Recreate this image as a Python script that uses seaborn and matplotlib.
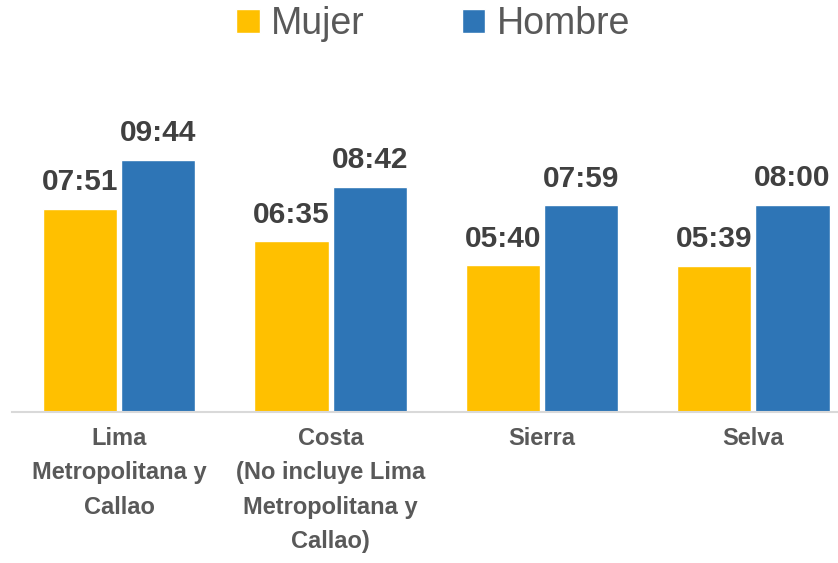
import numpy as np
import pandas as pd
import matplotlib.pyplot as plt
import seaborn as sns

# datos
regiones = ["Lima\nMetropolitana y\nCallao",
            "Costa\n(No incluye Lima\nMetropolitana y\nCallao)",
            "Sierra",
            "Selva"]
mujer = ["07:51", "06:35", "05:40", "05:39"]
hombre = ["09:44", "08:42", "07:59", "08:00"]


def a_horas(t):
    h, m = t.split(":")
    return int(h) + int(m) / 60


df = pd.DataFrame({
    "region": regiones * 2,
    "sexo": ["Mujer"] * 4 + ["Hombre"] * 4,
    "horas": [a_horas(t) for t in mujer + hombre],
})

sns.set_style("white")
plt.rcParams["font.family"] = ["Liberation Sans", "DejaVu Sans"]

fig = plt.figure(figsize=(8.38, 5.63), dpi=100)
ax = fig.add_axes([12 / 838, 151 / 563, 826 / 838, 12 * 25.9 / 563])

sns.barplot(data=df, x="region", y="horas", hue="sexo",
            hue_order=["Mujer", "Hombre"],
            palette={"Mujer": "#FFC000", "Hombre": "#2E75B6"},
            saturation=1, width=0.74, gap=0.05, ax=ax, legend=True)

ax.set_ylim(0, 12)
ax.set_xlim(-0.507, 3.40)
ax.set_xlabel("")
ax.set_ylabel("")
ax.set_yticks([])

for s in ["top", "right", "left"]:
    ax.spines[s].set_visible(False)
ax.spines["bottom"].set_color("#D9D9D9")
ax.spines["bottom"].set_linewidth(1.5)

ax.tick_params(axis="x", length=0, pad=11, colors="#595959")
for lbl in ax.get_xticklabels():
    lbl.set_fontsize(17)
    lbl.set_fontweight("bold")
    lbl.set_linespacing(1.62)

for cont, etiquetas in zip(ax.containers, [mujer, hombre]):
    ax.bar_label(cont, labels=etiquetas, padding=9, fontsize=21.5,
                 fontweight="bold", color="#404040")

handles, labels = ax.get_legend_handles_labels()
ax.get_legend().remove()
fig.legend(handles, labels, loc="center", bbox_to_anchor=(433 / 838, 1 - 24 / 563),
           ncol=2, frameon=False, fontsize=27, handlelength=0.62, handleheight=0.62,
           handletextpad=0.3, columnspacing=2.6, labelcolor="#595959")

plt.savefig("out.png", dpi=100)
